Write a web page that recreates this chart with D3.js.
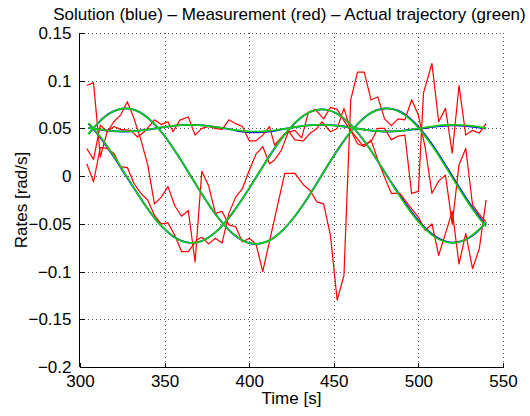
<!DOCTYPE html>
<html><head><meta charset="utf-8">
<script src="https://cdn.jsdelivr.net/npm/d3@7"></script>
<style>body{margin:0;background:#fff}svg{display:block}text{font-family:"Liberation Sans",Arial,Helvetica,sans-serif;fill:#000}</style>
</head><body><svg id="c" width="530" height="416"></svg>
<script>
const titleText = "Solution (blue) \u2013 Measurement (red) \u2013 Actual trajectory (green)";
const xLabel = "Time [s]";
const yLabel = "Rates [rad/s]";
const xTicks = [300,350,400,450,500,550];
const xTickLabels = ["300","350","400","450","500","550"];
const yTicks = [0.15,0.1,0.05,0,-0.05,-0.1,-0.15,-0.2];
const yTickLabels = ["0.15","0.1","0.05","0","\u22120.05","\u22120.1","\u22120.15","\u22120.2"];

// time grid of the smooth trajectories
const tTrue = [305,310,315,320,325,330,335,340,345,350,355,360,365,370,375,380,385,390,395,400,405,410,415,420,425,430,435,440,445,450,455,460,465,470,475,480,485,490,495,500,505,510,515,520,525,530,535,540];
// actual trajectory (green)
const actual1 = [0.0443,0.0546,0.0627,0.0681,0.0708,0.0705,0.0673,0.0612,0.0527,0.0420,0.0295,0.0158,0.0014,-0.0129,-0.0268,-0.0396,-0.0507,-0.0598,-0.0663,-0.0701,-0.0709,-0.0689,-0.0640,-0.0564,-0.0465,-0.0348,-0.0216,-0.0073,0.0072,0.0214,0.0346,0.0465,0.0563,0.0640,0.0689,0.0709,0.0701,0.0663,0.0597,0.0506,0.0394,0.0268,0.0129,-0.0015,-0.0158,-0.0295,-0.0420,-0.0528];
const actual2 = [0.0556,0.0458,0.0342,0.0211,0.0071,-0.0071,-0.0211,-0.0342,-0.0458,-0.0556,-0.0631,-0.0679,-0.0699,-0.0691,-0.0653,-0.0589,-0.0500,-0.0390,-0.0264,-0.0128,0.0014,0.0156,0.0291,0.0414,0.0520,0.0604,0.0664,0.0695,0.0698,0.0672,0.0618,0.0539,0.0437,0.0318,0.0186,0.0044,-0.0100,-0.0238,-0.0366,-0.0479,-0.0572,-0.0642,-0.0685,-0.0700,-0.0685,-0.0642,-0.0572,-0.0479];
const actual3 = [0.0507,0.0493,0.0481,0.0472,0.0468,0.0470,0.0477,0.0488,0.0502,0.0515,0.0527,0.0535,0.0538,0.0535,0.0527,0.0515,0.0502,0.0488,0.0477,0.0470,0.0468,0.0472,0.0481,0.0493,0.0507,0.0521,0.0531,0.0537,0.0538,0.0532,0.0523,0.0510,0.0496,0.0483,0.0474,0.0468,0.0469,0.0475,0.0486,0.0499,0.0513,0.0525,0.0534,0.0538,0.0536,0.0529,0.0518,0.0504];
// solution (blue)
const solution1 = [0.0440,0.0541,0.0627,0.0681,0.0708,0.0705,0.0673,0.0612,0.0527,0.0420,0.0295,0.0158,0.0014,-0.0129,-0.0268,-0.0396,-0.0507,-0.0598,-0.0663,-0.0701,-0.0709,-0.0689,-0.0640,-0.0564,-0.0465,-0.0348,-0.0216,-0.0073,0.0072,0.0214,0.0346,0.0465,0.0563,0.0640,0.0689,0.0709,0.0703,0.0668,0.0605,0.0516,0.0406,0.0282,0.0144,0.0001,-0.0142,-0.0280,-0.0406,-0.0515];
const solution2 = [0.0550,0.0450,0.0333,0.0203,0.0065,-0.0074,-0.0211,-0.0342,-0.0458,-0.0556,-0.0631,-0.0679,-0.0699,-0.0691,-0.0653,-0.0589,-0.0500,-0.0390,-0.0264,-0.0128,0.0014,0.0156,0.0291,0.0414,0.0520,0.0604,0.0664,0.0695,0.0698,0.0672,0.0618,0.0539,0.0437,0.0318,0.0186,0.0044,-0.0094,-0.0226,-0.0352,-0.0465,-0.0560,-0.0632,-0.0678,-0.0696,-0.0684,-0.0645,-0.0578,-0.0488];
const solution3 = [0.0507,0.0493,0.0481,0.0472,0.0468,0.0470,0.0477,0.0488,0.0502,0.0515,0.0527,0.0535,0.0538,0.0535,0.0527,0.0515,0.0502,0.0488,0.0469,0.0462,0.0460,0.0464,0.0474,0.0493,0.0507,0.0521,0.0531,0.0537,0.0538,0.0532,0.0523,0.0510,0.0496,0.0483,0.0474,0.0468,0.0469,0.0475,0.0486,0.0493,0.0507,0.0519,0.0528,0.0532,0.0530,0.0523,0.0512,0.0498];
// measurements (red)
const tMeas1 = [304,308,312,316,320,324,328,332,336,340,344,348,352,356,360,364,368,372,376,380,384,388,392,396,400,404,408,421,427,432,436,440,444,448,452,456,460,464,468,472,476,480,484,488,492,496,500,504,508,512,516,520,524,528,532,536,540];
const meas1 = [0.095,0.098,0.020,0.046,0.057,0.064,0.078,0.060,0.038,0.012,-0.029,-0.022,-0.011,-0.031,-0.042,-0.036,-0.090,0.005,-0.010,-0.039,-0.037,-0.051,-0.053,-0.069,-0.065,-0.071,-0.100,0.003,0.003,-0.009,-0.015,-0.027,-0.029,-0.062,-0.130,-0.104,0.080,0.109,0.109,0.080,0.083,0.060,0.053,0.060,0.059,0.080,0.064,0.030,-0.018,-0.005,0.001,-0.050,0.012,0.029,-0.030,-0.040,-0.048];
const tMeas2 = [304,308,312,316,320,324,328,332,336,340,344,348,352,356,360,364,369,372,376,380,384,388,392,396,400,404,408,412,415,419,423,427,431,435,439,444,448,452,456,460,464,468,472,476,480,484,489,495,500,504,508,512,516,520,524,528,532,536,540];
const meas2 = [0.013,-0.006,0.030,0.029,0.024,0.010,0.009,-0.008,-0.018,-0.025,-0.041,-0.050,-0.049,-0.062,-0.079,-0.079,-0.067,-0.064,-0.071,-0.065,-0.070,-0.039,-0.022,-0.013,0.006,0.023,0.031,0.013,0.017,0.027,0.046,0.048,0.040,0.067,0.070,0.060,0.072,0.070,0.058,0.048,0.034,0.031,0.038,0.017,-0.001,-0.018,-0.018,-0.032,-0.043,-0.057,-0.050,-0.083,-0.060,-0.037,-0.092,-0.060,-0.097,-0.076,-0.025];
const tMeas3 = [304,308,312,316,320,324,330,334,338,344,348,352,355,359,364,368,372,376,380,384,388,392,396,400,404,408,412,415,419,423,427,432,436,440,443,448,452,456,460,464,467,472,476,480,484,488,492,496,500,503,508,512,516,520,524,528,532,536,540];
const meas3 = [0.029,0.0175,0.0535,0.0465,0.052,0.049,0.048,0.041,0.0465,0.059,0.054,0.057,0.0465,0.0587,0.062,0.043,0.050,0.052,0.050,0.049,0.059,0.055,0.052,0.037,0.037,0.043,0.052,0.0325,0.0405,0.048,0.038,0.037,0.045,0.050,0.057,0.0465,0.050,0.071,0.048,0.039,0.0325,0.036,0.050,0.050,0.038,0.042,0.043,-0.018,-0.016,0.087,0.118,0.057,0.071,0.024,0.095,0.043,0.048,0.045,0.055];

const svg = d3.select("#c");
const L=80, R=503, T=33, B=367;
const x = d3.scaleLinear().domain([300,550]).range([L,R]);
const y = d3.scaleLinear().domain([-0.2,0.15]).range([B,T]);

// grid
const grid = svg.append("g").attr("stroke","#555").attr("stroke-width",1).attr("stroke-dasharray","1,3").attr("shape-rendering","crispEdges");
xTicks.forEach(v=>{ if(v!==300) grid.append("line").attr("x1",Math.round(x(v))+0.5).attr("x2",Math.round(x(v))+0.5).attr("y1",T).attr("y2",B); });
yTicks.forEach(v=>{ if(v!==-0.2) grid.append("line").attr("x1",L).attr("x2",R).attr("y1",Math.round(y(v))+0.5).attr("y2",Math.round(y(v))+0.5); });

// axes
const xAxis = d3.axisBottom(x).tickValues(xTicks).tickSize(-5).tickPadding(7).tickFormat((d,i)=>xTickLabels[i]);
const yAxis = d3.axisLeft(y).tickValues(yTicks).tickSize(-5).tickPadding(8).tickFormat((d,i)=>yTickLabels[i]);
const gx = svg.append("g").attr("transform",`translate(0,${B+0.5})`).call(xAxis);
const gy = svg.append("g").attr("transform",`translate(${L-0.5},0)`).call(yAxis);
[gx,gy].forEach(g=>{
  g.select(".domain").attr("stroke","#000").attr("shape-rendering","crispEdges");
  g.selectAll(".tick line").attr("stroke","#000").attr("shape-rendering","crispEdges");
  g.selectAll("text").attr("font-size",17).attr("font-family","Liberation Sans, Arial, sans-serif").attr("fill","#000");
});
gy.select(".domain").attr("d",`M0,${T}V${B}`);
gx.select(".domain").attr("d",`M${L},0H${R}`);

// lines
const smooth = d3.line().curve(d3.curveNatural);
const straight = d3.line();
function pts(ts,vs){ return ts.map((t,i)=>[x(t),y(vs[i])]); }
const plot = svg.append("g").attr("fill","none");
[solution1,solution2,solution3].forEach(s=>plot.append("path").attr("d",smooth(pts(tTrue,s))).attr("stroke","#0000ff").attr("stroke-width",1.8));
[[tMeas1,meas1],[tMeas2,meas2],[tMeas3,meas3]].forEach(([ts,vs])=>plot.append("path").attr("d",straight(pts(ts,vs))).attr("stroke","#ff0000").attr("stroke-width",1.2).attr("stroke-linejoin","round"));
[actual1,actual2,actual3].forEach(s=>plot.append("path").attr("d",smooth(pts(tTrue,s))).attr("stroke","#12d012").attr("stroke-width",1.7));

// texts
svg.append("text").attr("x",(L+R)/2 - 2).attr("y",20).attr("text-anchor","middle").attr("font-size",17).text(titleText);
svg.append("text").attr("x",(L+R)/2).attr("y",404).attr("text-anchor","middle").attr("font-size",17).text(xLabel);
svg.append("text").attr("transform","translate(27,200) rotate(-90)").attr("text-anchor","middle").attr("font-size",17).text(yLabel);
</script></body></html>
